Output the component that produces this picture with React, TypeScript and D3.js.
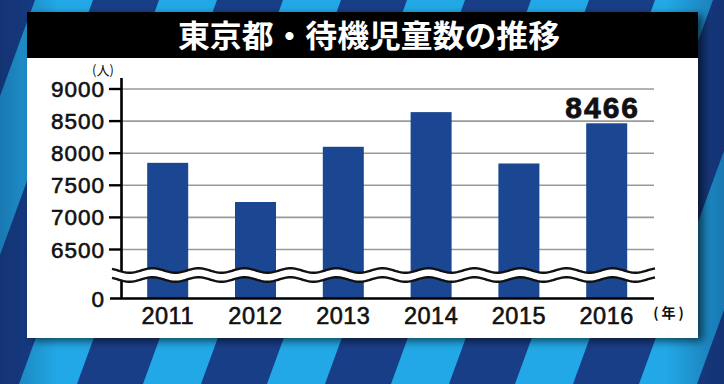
import React from "react";
import * as d3 from "d3";

const title = "東京都・待機児童数の推移";
const years = ["2011", "2012", "2013", "2014", "2015", "2016"];
const values = [7850, 7240, 8100, 8640, 7840, 8466];
const yTicks = [6500, 7000, 7500, 8000, 8500, 9000];
const highlightIndex = 5;
const yUnit = "(人)";
const xUnit = "(年)";

const W = 724;
const H = 384;

export default function App() {
  const x = d3.scalePoint<string>().domain(years).range([167.7, 606.7]);
  const barW = 41;
  const y = d3.scaleLinear().domain([6500, 9000]).range([249.5, 89]);
  const zeroY = 298.5;
  const axisX = 121.5;
  const gridRight = 654;

  // background stripes (decorative)
  const period = 124;
  const lightW = 58;
  const shift = 140;
  const stripes = d3.range(-3, 8).map((k) => {
    const x0 = 35 + k * period;
    return `M${x0},0 L${x0 + lightW},0 L${x0 + lightW - shift},${H} L${x0 - shift},${H} Z`;
  });

  const wave = (y0: number) => {
    const pts: [number, number][] = d3
      .range(112, 656, 1)
      .map((px) => [px, y0 + 2.3 * Math.sin(((px - 118) / 46) * 2 * Math.PI)]);
    return pts;
  };
  const topWave = wave(270.5);
  const botWave = wave(279.5);
  const line = d3.line();
  const band =
    line(topWave)! + " L" + line(botWave.slice().reverse())!.slice(1) + " Z";

  return (
    <svg
      width={W}
      height={H}
      style={{ position: "absolute", left: 0, top: 0, display: "block" }}
    >
      <defs>
        <filter id="sh" x="-10%" y="-10%" width="125%" height="130%">
          <feDropShadow dx="5" dy="3" stdDeviation="4" floodColor="#000" floodOpacity="0.6" />
        </filter>
        <linearGradient id="vig" x1="0" x2="1" y1="0" y2="0">
          <stop offset="0" stopColor="#0a1f4f" stopOpacity="0.35" />
          <stop offset="0.08" stopColor="#0a1f4f" stopOpacity="0" />
          <stop offset="0.92" stopColor="#0a1f4f" stopOpacity="0" />
          <stop offset="1" stopColor="#0a1f4f" stopOpacity="0.35" />
        </linearGradient>
      </defs>
      <rect x={0} y={0} width={W} height={H} fill="#183e88" />
      {stripes.map((d, i) => (
        <path key={i} d={d} fill="#22a8e6" />
      ))}
      <rect x={0} y={0} width={W} height={H} fill="url(#vig)" />

      {/* panel */}
      <g filter="url(#sh)">
        <rect x={27} y={12} width={671} height={326} fill="#ffffff" />
      </g>
      <rect x={27} y={12} width={671} height={46} fill="#000000" />
      <text
        x={369}
        y={47}
        textAnchor="middle"
        fill="#ffffff"
        fontFamily="'Noto Sans CJK JP', sans-serif"
        fontWeight={700}
        fontSize={31}
        textLength={382}
        lengthAdjust="spacingAndGlyphs"
      >
        {title}
      </text>

      {/* gridlines */}
      {yTicks.map((t) => (
        <line
          key={t}
          x1={axisX}
          x2={gridRight}
          y1={y(t)}
          y2={y(t)}
          stroke="#9a9a9a"
          strokeWidth={1.6}
        />
      ))}

      {/* bars */}
      {years.map((yr, i) => (
        <rect
          key={yr}
          x={x(yr)! - barW / 2}
          y={y(values[i])}
          width={barW}
          height={zeroY - y(values[i])}
          fill="#1b4792"
        />
      ))}

      {/* axis */}
      <line x1={axisX} x2={axisX} y1={78} y2={zeroY} stroke="#000" strokeWidth={2.6} />
      <line x1={110} x2={gridRight} y1={zeroY} y2={zeroY} stroke="#000" strokeWidth={2.4} />
      {yTicks.map((t) => (
        <line key={t} x1={109} x2={axisX} y1={y(t)} y2={y(t)} stroke="#000" strokeWidth={2.4} />
      ))}

      {/* axis break */}
      <path d={band} fill="#ffffff" />
      <path d={line(topWave)!} fill="none" stroke="#111" strokeWidth={2.4} />
      <path d={line(botWave)!} fill="none" stroke="#111" strokeWidth={2.4} />

      {/* y labels */}
      <g
        fontFamily="'Liberation Sans', Arial, sans-serif"
        fontSize={22.5}
        fill="#111"
        stroke="#111"
        strokeWidth={0.6}
        textAnchor="end"
        letterSpacing={1}
      >
        {yTicks.map((t) => (
          <text key={t} x={105} y={y(t) + 8}>
            {t}
          </text>
        ))}
        <text x={105} y={zeroY + 8}>
          0
        </text>
      </g>
      <text
        x={103}
        y={75}
        textAnchor="middle"
        fontFamily="'Noto Sans CJK JP', sans-serif"
        fontSize={13}
        fill="#111"
      >
        {yUnit}
      </text>

      {/* x labels */}
      <g
        fontFamily="'Liberation Sans', Arial, sans-serif"
        fontSize={23.5}
        fill="#111"
        stroke="#111"
        strokeWidth={0.6}
        textAnchor="middle"
        letterSpacing={0.5}
      >
        {years.map((yr) => (
          <text key={yr} x={x(yr)!} y={323.5}>
            {yr}
          </text>
        ))}
      </g>
      <text
        x={670}
        y={318}
        textAnchor="middle"
        fontFamily="'Noto Sans CJK JP', sans-serif"
        fontSize={14}
        fontWeight={700}
        fill="#111"
        letterSpacing={3}
      >
        {xUnit}
      </text>

      {/* highlight value */}
      <text
        x={x(years[highlightIndex])! - 4}
        y={118}
        textAnchor="middle"
        fontFamily="'Liberation Sans', Arial, sans-serif"
        fontWeight={700}
        fontSize={30}
        letterSpacing={2}
        fill="#111"
        stroke="#111"
        strokeWidth={0.8}
      >
        {values[highlightIndex]}
      </text>
    </svg>
  );
}
